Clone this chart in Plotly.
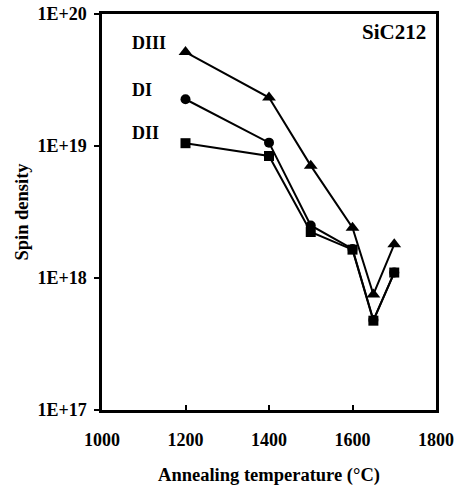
import plotly.graph_objects as go
import math

temps = [1200, 1400, 1500, 1600, 1650, 1700]
d3 = [5.15e19, 2.33e19, 7.1e18, 2.4e18, 7.5e17, 1.8e18]
d1 = [2.26e19, 1.06e19, 2.5e18, 1.66e18, 4.8e17, 1.1e18]
d2 = [1.05e19, 8.4e18, 2.23e18, 1.64e18, 4.75e17, 1.1e18]

y_tickvals = [1e17, 1e18, 1e19, 1e20]
y_ticktext = ["1E+17", "1E+18", "1E+19", "1E+20"]
x_tickvals = [1000, 1200, 1400, 1600, 1800]

font = "Liberation Serif"
fig = go.Figure()
for name, vals, sym, sz in [("DII", d2, "square", 10), ("DI", d1, "circle", 10), ("DIII", d3, "triangle-up", 12)]:
    fig.add_trace(go.Scatter(x=temps, y=vals, mode="lines+markers", name=name,
                             line=dict(color="black", width=2),
                             marker=dict(symbol=sym, size=sz, color="black")))

labels = [("DIII", 6.0e19), ("DI", 2.64e19), ("DII", 1.25e19)]
for txt, y in labels:
    fig.add_annotation(x=1067, y=math.log10(y), xref="x", yref="y", text="<b>%s</b>" % txt, showarrow=False,
                       xanchor="left", yanchor="middle",
                       font=dict(family=font, size=18, color="black"))
fig.add_annotation(x=0.975, y=0.99, xref="paper", yref="paper", text="<b>SiC212</b>", showarrow=False,
                   xanchor="right", yanchor="top", font=dict(family=font, size=21, color="black"))

fig.update_layout(
    width=454, height=487, showlegend=False,
    plot_bgcolor="white", paper_bgcolor="white",
    margin=dict(l=102, r=18, t=14, b=77),
    font=dict(family=font, size=17, color="black"),
)
fig.update_xaxes(range=[1000, 1800], tickvals=x_tickvals,
                 ticktext=["<b>%d</b>" % v for v in x_tickvals],
                 showline=True, linecolor="black", linewidth=2.5, mirror=True,
                 ticks="inside", ticklen=5, tickwidth=2, tickcolor="black",
                 showgrid=False, zeroline=False, automargin=False,
                 ticklabeloverflow="allow", ticklabelstandoff=12,
                 tickfont=dict(family=font, size=18),
                 title=dict(text="<b>Annealing temperature (°C)</b>", font=dict(family=font, size=18.5), standoff=19))
fig.update_yaxes(type="log", range=[17, 20], tickvals=y_tickvals,
                 ticktext=["<b>%s</b>" % t for t in y_ticktext],
                 showline=True, linecolor="black", linewidth=2.5, mirror=True,
                 ticks="outside", ticklen=5, tickwidth=2, tickcolor="black",
                 showgrid=False, zeroline=False, automargin=False,
                 ticklabeloverflow="allow", ticklabelstandoff=4,
                 tickfont=dict(family=font, size=18),
                 title=dict(text="<b>Spin density</b>", font=dict(family=font, size=18.5), standoff=4))

fig.write_html("out.html", config={"displayModeBar": False},
               post_script="document.body.style.margin='0';document.body.style.overflow='hidden';")
